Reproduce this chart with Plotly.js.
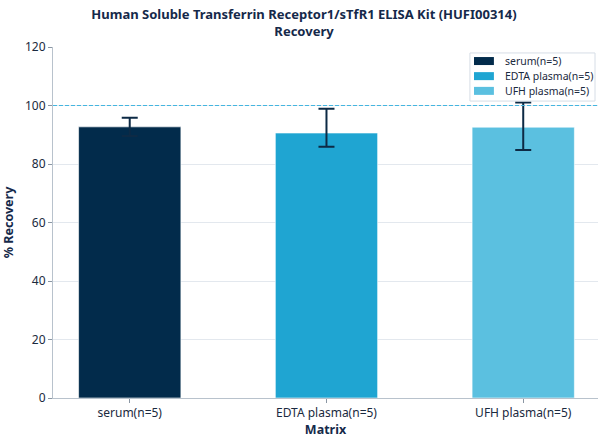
<!DOCTYPE html>
<html><head><meta charset="utf-8">
<script src="https://cdn.plot.ly/plotly-3.0.1.min.js"></script>
<style>html,body{margin:0;padding:0;background:#fff;}#chart{width:608px;height:444px;}</style>
</head><body><div id="chart"></div>
<script>
const categories = ["serum(n=5)", "EDTA plasma(n=5)", "UFH plasma(n=5)"];
const recovery = [92.7, 90.6, 92.6];
const errPlus = [3.1, 8.3, 8.4];
const errMinus = [3.1, 4.7, 7.8];
const colors = ["#022b4b", "#1fa5d2", "#5bc0e0"];
const yTicks = [0, 20, 40, 60, 80, 100, 120];

const traces = categories.map((c, i) => ({
  type: 'bar',
  name: c,
  x: [c],
  y: [recovery[i]],
  width: 0.52,
  marker: {color: colors[i], line: {color: 'rgba(255,255,255,0.6)', width: 1}},
  error_y: {type: 'data', symmetric: false, array: [errPlus[i]], arrayminus: [errMinus[i]],
            color: '#0d2a45', thickness: 2, width: 8},
  hoverinfo: 'skip'
}));

// Legend drawn as layout decorations (paper coordinates inside the plot area)
const legX0 = 0.765, legX1 = 0.9945, legY0 = 0.846, legY1 = 0.983;
const rowY = [0.960, 0.917, 0.875];
const swX0 = 0.7725, swX1 = 0.809, swH = 0.0114, txtX = 0.826;

const shapes = [
  {type: 'line', xref: 'paper', x0: 0, x1: 1, yref: 'y', y0: 100, y1: 100,
   line: {color: '#45b6e0', width: 1.2, dash: '4px,2px'}, layer: 'above'},
  {type: 'rect', xref: 'paper', yref: 'paper', x0: legX0, x1: legX1, y0: legY0, y1: legY1,
   fillcolor: '#ffffff', line: {color: '#d6dde6', width: 1}, layer: 'above'}
];
const annotations = [];
categories.forEach((c, i) => {
  shapes.push({type: 'rect', xref: 'paper', yref: 'paper', x0: swX0, x1: swX1,
               y0: rowY[i] - swH, y1: rowY[i] + swH, fillcolor: colors[i],
               line: {width: 0}, layer: 'above'});
  annotations.push({xref: 'paper', yref: 'paper', x: txtX, y: rowY[i], text: c,
                    showarrow: false, xanchor: 'left', yanchor: 'middle',
                    font: {size: 10.5, color: '#1a2a40'}});
});

const layout = {
  width: 608, height: 444,
  margin: {l: 53, r: 10, t: 47, b: 46},
  paper_bgcolor: '#fff', plot_bgcolor: '#fff',
  font: {family: 'Noto Sans, Open Sans, sans-serif', color: '#1a2a40', size: 11},
  title: {text: '<b>Human Soluble Transferrin Receptor1/sTfR1 ELISA Kit (HUFI00314)<br>Recovery</b>',
          x: 0.5, xref: 'container', y: 0.958, yanchor: 'top',
          font: {size: 13, color: '#15294a', family: 'Noto Sans, Open Sans, sans-serif'}},
  barmode: 'overlay',
  showlegend: false,
  xaxis: {type: 'category', categoryorder: 'array', categoryarray: categories,
          range: [-0.39, 2.38], showline: true, linecolor: '#b8c2cc', linewidth: 1,
          ticks: 'outside', ticklen: 4, tickcolor: '#8a96a3', showgrid: false,
          tickfont: {size: 12, color: '#1a2a40'},
          title: {text: '<b>Matrix</b>', font: {size: 12.5, color: '#15294a'}, standoff: 3}},
  yaxis: {range: [0, 120], tickvals: yTicks, showline: true, linecolor: '#b8c2cc', linewidth: 1,
          ticks: 'outside', ticklen: 4, tickcolor: '#8a96a3', showgrid: true, gridcolor: '#e3e8ee',
          gridwidth: 1, zeroline: false, tickfont: {size: 12, color: '#1a2a40'},
          title: {text: '<b>% Recovery</b>', font: {size: 12.5, color: '#15294a'}, standoff: 8}},
  shapes: shapes,
  annotations: annotations
};
Plotly.newPlot('chart', traces, layout, {staticPlot: true, displayModeBar: false});
</script></body></html>
